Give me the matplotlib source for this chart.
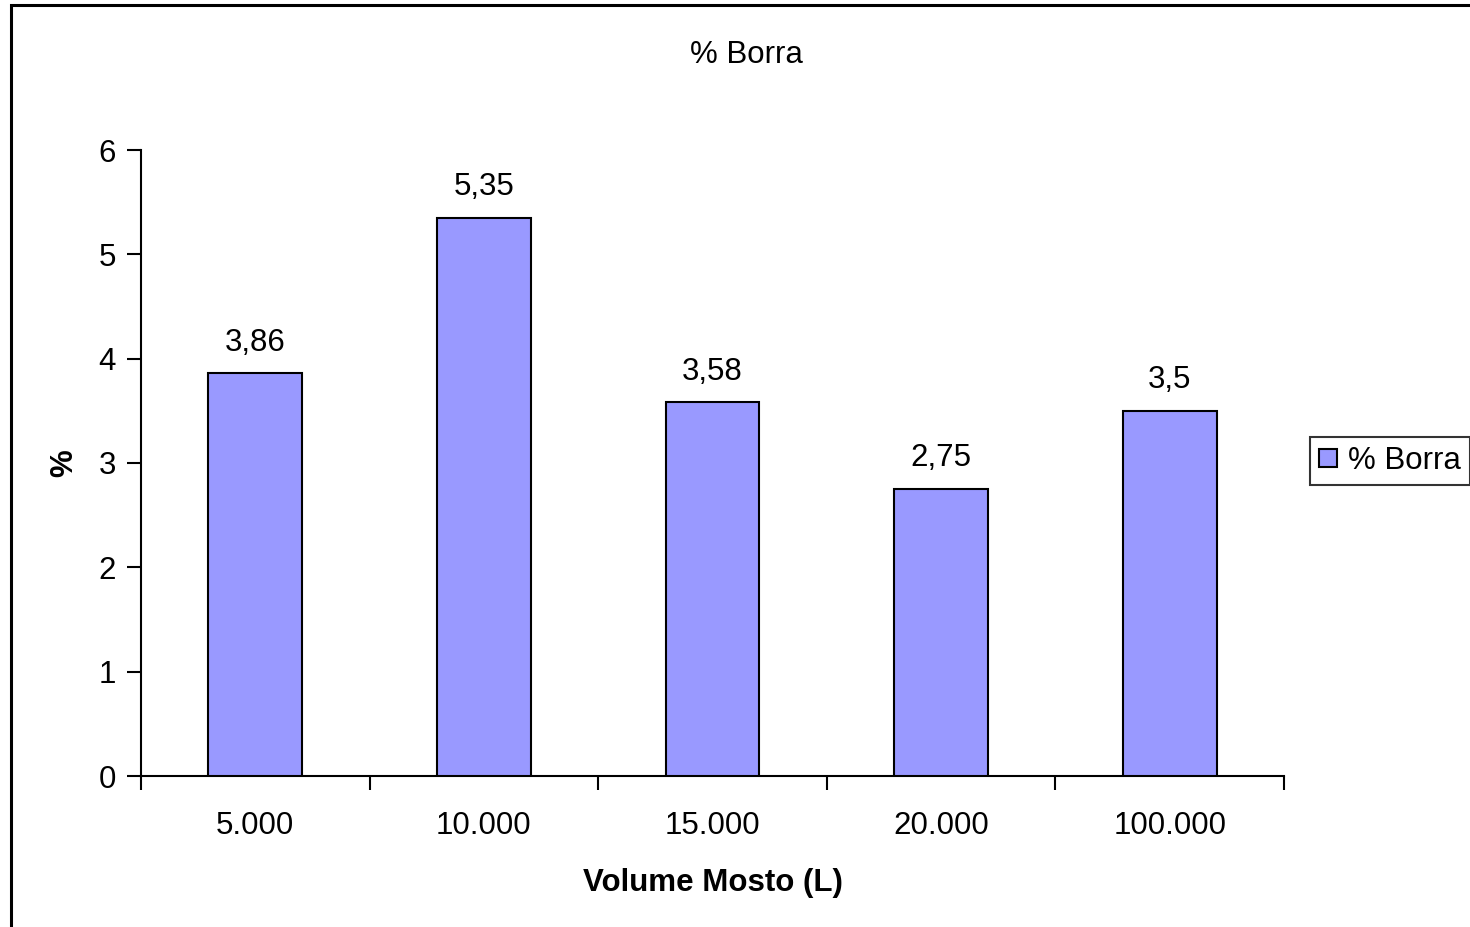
import matplotlib.pyplot as plt
from matplotlib.patches import Rectangle
import numpy as np

categories = ["5.000", "10.000", "15.000", "20.000", "100.000"]
values = [3.86, 5.35, 3.58, 2.75, 3.5]
value_labels = ["3,86", "5,35", "3,58", "2,75", "3,5"]

plt.rcParams["font.family"] = ["Liberation Sans", "DejaVu Sans"]
FS = 22.5

W, H = 1470, 927
fig = plt.figure(figsize=(W / 100, H / 100), dpi=100)

# outer chart border (cut off on right/bottom)
fig.patches.append(Rectangle((11 / W, -0.05), 1.2, 1 - 5 / H + 0.05,
                             transform=fig.transFigure, fill=False,
                             edgecolor="black", linewidth=2.2))

ax = fig.add_axes([141 / W, 1 - 776 / H, (1284 - 141) / W, (776 - 150) / H])

x = np.arange(len(categories))
bars = ax.bar(x, values, width=0.41, color="#9999ff", edgecolor="black",
              linewidth=1.5, label="% Borra", zorder=3)
for xi, v, lab in zip(x, values, value_labels):
    ax.text(xi, v + 0.15, lab, ha="center", va="bottom", fontsize=FS)

ax.set_xlim(-0.5, len(categories) - 0.5)
ax.set_ylim(0, 6)
ax.set_yticks(range(0, 7))
ax.set_xticks(x)
ax.set_xticklabels(categories)
ax.set_xticks(np.arange(-0.5, len(categories)), minor=True)
ax.tick_params(axis="x", which="major", length=0, pad=25, labelsize=FS)
ax.tick_params(axis="x", which="minor", length=10, width=1.5, direction="out")
ax.tick_params(axis="y", length=10, width=1.5, direction="out", pad=8, labelsize=FS)

for s in ["top", "right"]:
    ax.spines[s].set_visible(False)
for s in ["left", "bottom"]:
    ax.spines[s].set_linewidth(1.5)

ax.set_xlabel("Volume Mosto (L)", fontsize=FS, fontweight="bold", labelpad=20)
ax.set_ylabel("%", fontsize=FS, fontweight="bold", labelpad=14)
fig.text(746 / W, 1 - 55 / H, "% Borra", ha="center", va="center", fontsize=FS)

leg = ax.legend(loc="center left", bbox_to_anchor=(1310 / W, 1 - 461 / H),
                bbox_transform=fig.transFigure, fontsize=FS, frameon=True,
                fancybox=False, edgecolor="black", handlelength=0.55,
                handleheight=0.55, handletextpad=0.35, borderpad=0.3,
                borderaxespad=0)
leg.get_frame().set_linewidth(1.5)

fig.savefig("out.png", dpi=100)
